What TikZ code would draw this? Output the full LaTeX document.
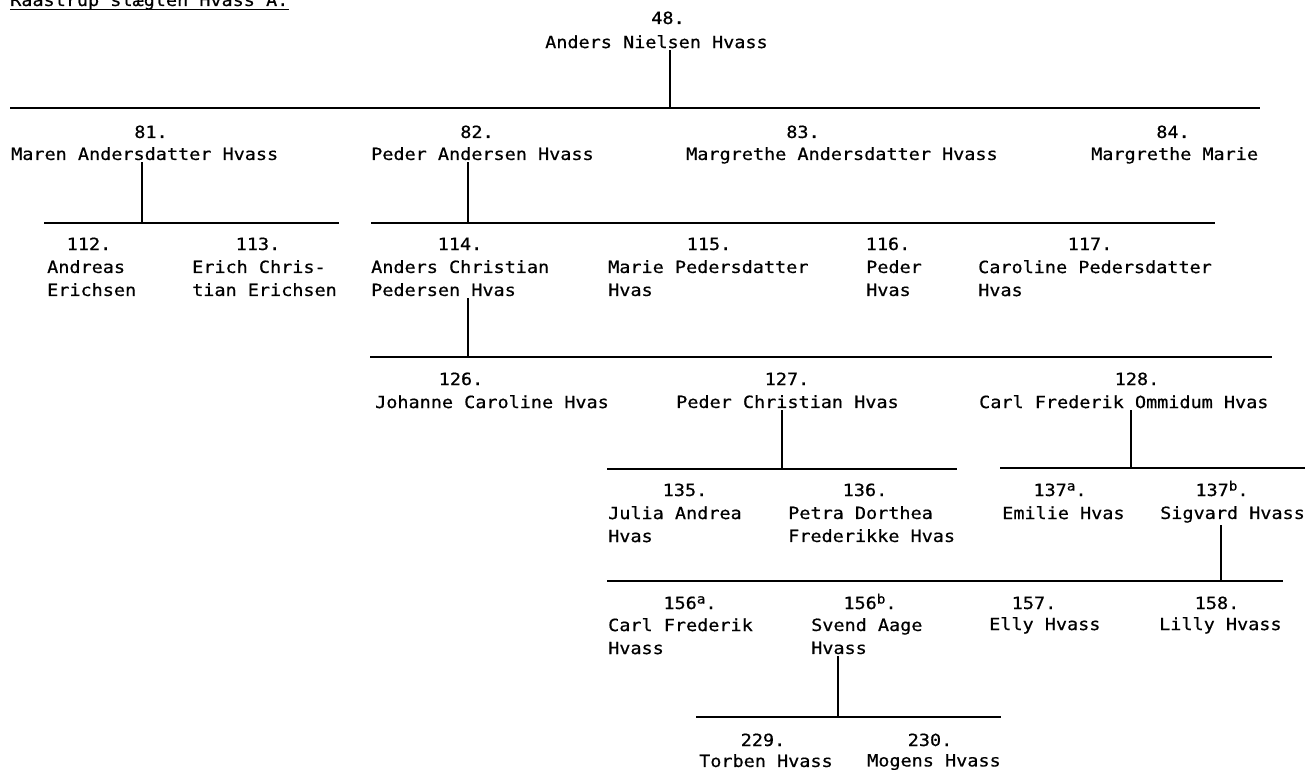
\documentclass[tikz,border=0pt]{standalone}
\usepackage{fontspec}
\newfontfamily\tavle[FakeStretch=1.1,FakeBold=0.6]{DejaVu Sans Mono}
\newcommand\hoej[1]{\raisebox{5.5pt}{\fontsize{13}{13}\selectfont#1}}

\begin{document}
\begin{tikzpicture}[
  x=1pt,y=-1pt,
  every node/.style={font={\tavle\fontsize{16.8}{23}\selectfont},inner sep=0pt},
  num/.style={anchor=base},
  person/.style={anchor=north west,align=left},
  bus/.style={line width=1.6pt},
  stem/.style={line width=1.4pt,shorten >=2pt}
]
  \useasboundingbox (0,0) rectangle (1306,770);
  \clip (0,0) rectangle (1306,770);

  \node[anchor=base west] (title) at (10,6) {Raastrup slægten Hvass A.};
  \draw[line width=1pt] (title.south west) -- (title.south east);

  \node[num] (num48) at (668,24) {48.};
  \node[person] (n48) at (545,35) {Anders Nielsen Hvass};
  \coordinate (b48w) at (10,108);
  \coordinate (b48e) at (1260,108);
  \coordinate (j48) at (670,108);
  \draw[bus] (b48w) -- (b48e);
  \draw[stem] (j48) -- (j48 |- n48.south);

  \node[num] (num81) at (151,138) {81.};
  \node[person] (n81) at (11,147) {Maren Andersdatter Hvass};
  \node[num] (num82) at (477,138) {82.};
  \node[person] (n82) at (371,147) {Peder Andersen Hvass};
  \node[num] (num83) at (803,138) {83.};
  \node[person] (n83) at (686,147) {Margrethe Andersdatter Hvass};
  \node[num] (num84) at (1173,138) {84.};
  \node[person] (n84) at (1091,147) {Margrethe Marie};

  \coordinate (b81w) at (44,223);
  \coordinate (b81e) at (339,223);
  \coordinate (j81) at (142,223);
  \draw[bus] (b81w) -- (b81e);
  \draw[stem] (j81) -- (j81 |- n81.south);
  \coordinate (b82w) at (371,223);
  \coordinate (b82e) at (1215,223);
  \coordinate (j82) at (468,223);
  \draw[bus] (b82w) -- (b82e);
  \draw[stem] (j82) -- (j82 |- n82.south);

  \node[num] (num112) at (89,250) {112.};
  \node[person] (n112) at (47,260) {Andreas\\Erichsen};
  \node[num] (num113) at (258,250) {113.};
  \node[person] (n113) at (192,260) {Erich Chris-\\tian Erichsen};
  \node[num] (num114) at (460,250) {114.};
  \node[person] (n114) at (371,260) {Anders Christian\\Pedersen Hvas};
  \node[num] (num115) at (709,250) {115.};
  \node[person] (n115) at (608,260) {Marie Pedersdatter\\Hvas};
  \node[num] (num116) at (888,250) {116.};
  \node[person] (n116) at (866,260) {Peder\\Hvas};
  \node[num] (num117) at (1090,250) {117.};
  \node[person] (n117) at (978,260) {Caroline Pedersdatter\\Hvas};

  \coordinate (b114w) at (370,357);
  \coordinate (b114e) at (1272,357);
  \coordinate (j114) at (468,357);
  \draw[bus] (b114w) -- (b114e);
  \draw[stem] (j114) -- (j114 |- n114.south);

  \node[num] (num126) at (461,385) {126.};
  \node[person] (n126) at (375,395) {Johanne Caroline Hvas};
  \node[num] (num127) at (787,385) {127.};
  \node[person] (n127) at (676,395) {Peder Christian Hvas};
  \node[num] (num128) at (1137,385) {128.};
  \node[person] (n128) at (979,395) {Carl Frederik Ommidum Hvas};

  \coordinate (b127w) at (607,469);
  \coordinate (b127e) at (957,469);
  \coordinate (j127) at (782,469);
  \draw[bus] (b127w) -- (b127e);
  \draw[stem] (j127) -- (j127 |- n127.south);
  \coordinate (b128w) at (1000,468);
  \coordinate (b128e) at (1305,468);
  \coordinate (j128) at (1131,468);
  \draw[bus] (b128w) -- (b128e);
  \draw[stem] (j128) -- (j128 |- n128.south);

  \node[num] (num135) at (685,496) {135.};
  \node[person] (n135) at (608,506) {Julia Andrea\\Hvas};
  \node[num] (num136) at (865,496) {136.};
  \node[person] (n136) at (788,506) {Petra Dorthea\\Frederikke Hvas};
  \node[num] (num137a) at (1060,496) {137\hoej{a}.};
  \node[person] (n137a) at (1002,506) {Emilie Hvas};
  \node[num] (num137b) at (1222,496) {137\hoej{b}.};
  \node[person] (n137b) at (1160,506) {Sigvard Hvass};

  \coordinate (b137w) at (607,581);
  \coordinate (b137e) at (1283,581);
  \coordinate (j137) at (1221,581);
  \draw[bus] (b137w) -- (b137e);
  \draw[stem] (j137) -- (j137 |- n137b.south);

  \node[num] (num156a) at (690,609) {156\hoej{a}.};
  \node[person] (n156a) at (608,618) {Carl Frederik\\Hvass};
  \node[num] (num156b) at (870,609) {156\hoej{b}.};
  \node[person] (n156b) at (811,618) {Svend Aage\\Hvass};
  \node[num] (num157) at (1034,609) {157.};
  \node[person] (n157) at (989,617) {Elly Hvass};
  \node[num] (num158) at (1217,609) {158.};
  \node[person] (n158) at (1159,617) {Lilly Hvass};

  \coordinate (b156w) at (696,717);
  \coordinate (b156e) at (1001,717);
  \coordinate (j156) at (838,717);
  \draw[bus] (b156w) -- (b156e);
  \draw[stem] (j156) -- (j156 |- n156b.south);

  \node[num] (num229) at (763,746) {229.};
  \node[person] (n229) at (699,754) {Torben Hvass};
  \node[num] (num230) at (930,746) {230.};
  \node[person] (n230) at (867,754) {Mogens Hvass};
\end{tikzpicture}
\end{document}
